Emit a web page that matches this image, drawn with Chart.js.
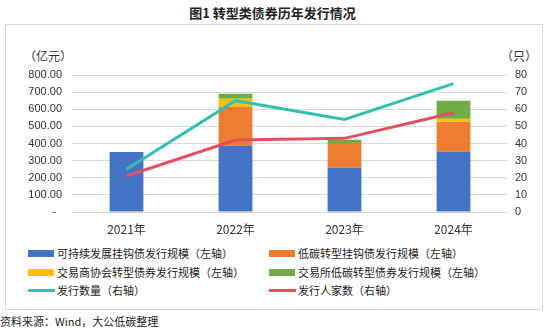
<!DOCTYPE html>
<html>
<head>
<meta charset="utf-8">
<script src="https://cdn.jsdelivr.net/npm/chart.js@4"></script>
<style>
body{margin:0;width:545px;height:329px;background:#fff;position:relative;overflow:hidden;
     font-family:"Noto Sans CJK SC","Noto Sans",sans-serif;color:#222;}
#titulo{position:absolute;left:0;top:4px;width:545px;text-align:center;font-size:13px;font-weight:bold;line-height:18px;}
#moldura{position:absolute;left:5px;top:24px;width:536px;height:284px;border:1px solid #d9d9d9;}
#caixa{position:absolute;left:6px;top:25px;width:536px;height:216px;}
.unid{position:absolute;top:48px;font-size:12px;line-height:16px;color:#333;}
#legenda{position:absolute;left:0;top:245px;width:545px;}
.item{position:absolute;font-size:11px;line-height:16px;white-space:nowrap;color:#222;}
.item span{position:absolute;top:5px;left:0;}
.item b{font-weight:normal;position:absolute;left:29px;top:0;}
#fonte{position:absolute;left:0;top:313px;font-size:11px;line-height:16px;color:#222;}
</style>
</head>
<body>

<div id="titulo">图1 转型类债券历年发行情况</div>
<div id="moldura"></div>
<div class="unid" style="left:24px">（亿元）</div>
<div class="unid" style="left:501px">（只）</div>
<div id="caixa"><canvas id="grafico"></canvas></div>
<div id="legenda"></div>
<div id="fonte">资料来源：Wind，大公低碳整理</div>

<script>

// =====================================
// DADOS
// =====================================

const anos = ["2021年","2022年","2023年","2024年"];

const sustentavel = [350, 387, 258, 352];
const baixoCarbono = [0, 227, 145, 175];
const associacao = [0, 47, 0, 17];
const bolsa = [0, 29, 19, 105];

const qtdEmissoes = [25, 65, 54, 75];
const qtdEmissores = [21, 42, 43, 58];

const nomes = [
    "可持续发展挂钩债发行规模（左轴）",
    "低碳转型挂钩债发行规模（左轴）",
    "交易商协会转型债券发行规模（左轴）",
    "交易所低碳转型债券发行规模（左轴）",
    "发行数量（右轴）",
    "发行人家数（右轴）"
];

const cores = [
    "#4472C4",
    "#ED7D31",
    "#FFC000",
    "#70AD47",
    "#33C0B2",
    "#E64E62"
];


// =====================================
// LEGENDA
// =====================================

const legenda = document.getElementById("legenda");

nomes.forEach((nome,i)=>{

    const col = i % 2;
    const lin = Math.floor(i / 2);

    const div = document.createElement("div");
    div.className = "item";
    div.style.left = (col === 0 ? 28 : 269) + "px";
    div.style.top = (lin * 18.5) + "px";

    const sw = document.createElement("span");

    if(i < 4){
        sw.style.width = "26px";
        sw.style.height = "7px";
        sw.style.top = "5px";
        sw.style.background = cores[i];
    } else {
        sw.style.width = "27px";
        sw.style.height = "3px";
        sw.style.top = "7px";
        sw.style.background = cores[i];
    }

    const tx = document.createElement("b");
    tx.innerText = nome;

    div.appendChild(sw);
    div.appendChild(tx);
    legenda.appendChild(div);

});


// =====================================
// GRAFICO
// =====================================

const fonteNum = {family:"'Liberation Sans', Arial, sans-serif", size:11};

function barra(i, dados){
    return {
        type:"bar",
        label:nomes[i],
        data:dados,
        backgroundColor:cores[i],
        stack:"escala",
        yAxisID:"y",
        order:2,
        categoryPercentage:1,
        barPercentage:0.31
    };
}

function linha(i, dados){
    return {
        type:"line",
        label:nomes[i],
        data:dados,
        borderColor:cores[i],
        backgroundColor:cores[i],
        borderWidth:3,
        pointRadius:0,
        tension:0,
        yAxisID:"y1",
        order:0
    };
}

new Chart(document.getElementById("grafico"),{

    data:{
        labels:anos,
        datasets:[
            barra(0, sustentavel),
            barra(1, baixoCarbono),
            barra(2, associacao),
            barra(3, bolsa),
            linha(4, qtdEmissoes),
            linha(5, qtdEmissores)
        ]
    },

    options:{
        responsive:true,
        maintainAspectRatio:false,
        animation:false,
        layout:{padding:{top:50,left:0,right:0,bottom:0}},
        plugins:{
            legend:{display:false},
            tooltip:{enabled:false}
        },
        scales:{
            x:{
                stacked:true,
                grid:{display:false},
                border:{display:true,color:"#d9d9d9"},
                ticks:{
                    color:"#333",
                    padding:2,
                    font:{family:"'Noto Sans CJK SC', sans-serif", size:12}
                },
                afterFit:s=>{ s.height = 29; }
            },
            y:{
                stacked:true,
                position:"left",
                min:0,
                max:800,
                grid:{color:"#d9d9d9",drawTicks:false},
                border:{display:false},
                ticks:{
                    stepSize:100,
                    padding:10,
                    color:"#333",
                    font:fonteNum,
                    callback:v=> v === 0 ? "-  " : v.toFixed(2)
                },
                afterFit:s=>{ s.width = 66; }
            },
            y1:{
                position:"right",
                min:0,
                max:80,
                grid:{drawOnChartArea:false,drawTicks:false},
                border:{display:false},
                ticks:{
                    stepSize:10,
                    padding:7,
                    color:"#333",
                    font:fonteNum
                },
                afterFit:s=>{ s.width = 34; }
            }
        }
    }

});

</script>
</body>
</html>
